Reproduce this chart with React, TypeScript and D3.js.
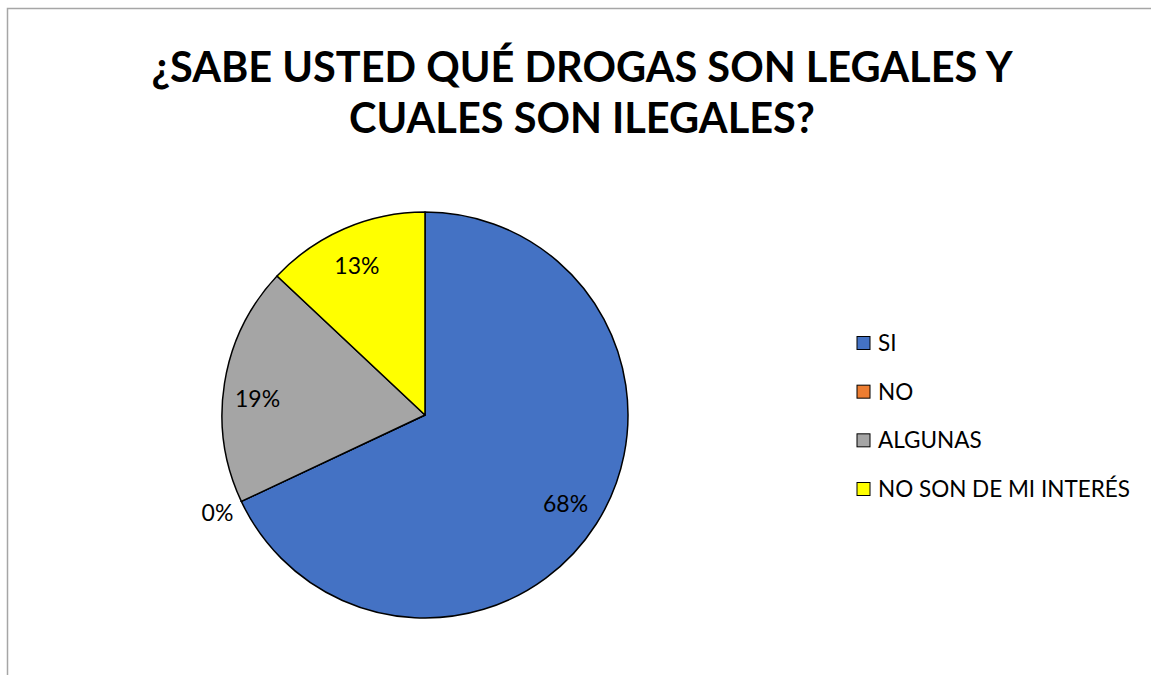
import { useEffect } from 'react'
import * as d3 from 'd3'

const categories = ['SI', 'NO', 'ALGUNAS', 'NO SON DE MI INTERÉS']
const values = [68, 0, 19, 13]
const colors = ['#4472C4', '#ED7D31', '#A5A5A5', '#FFFF00']
const titleLines = ['¿SABE USTED QUÉ DROGAS SON LEGALES Y', 'CUALES SON ILEGALES?']

// Excel "best fit" moves some labels a little off the mid-angle
const labelNudge: Record<string, [number, number]> = {
  'NO SON DE MI INTERÉS': [-2, 4],
  ALGUNAS: [-3, 10],
}

const W = 1151
const H = 675
const FONT = 'Lato, Calibri, Carlito, sans-serif'

export default function App() {
  useEffect(() => {
    // no page margin, no scrollbars
    document.body.style.margin = '0'
    document.documentElement.style.overflow = 'hidden'
  }, [])

  const cx = 425
  const cy = 415
  const r = 203

  const total = d3.sum(values)
  const pie = d3
    .pie<number>()
    .sort(null)
    .value((d) => d)
  const arcs = pie(values)
  const arc = d3.arc<d3.PieArcDatum<number>>().innerRadius(0).outerRadius(r)
  const labelArc = d3
    .arc<d3.PieArcDatum<number>>()
    .innerRadius(r * 0.82)
    .outerRadius(r * 0.82)
  const outsideArc = d3
    .arc<d3.PieArcDatum<number>>()
    .innerRadius(r * 1.13)
    .outerRadius(r * 1.13)

  const legendY = d3
    .scalePoint<string>()
    .domain(categories)
    .range([343, 489])

  return (
    <svg width={W} height={H} style={{ display: 'block', overflow: 'hidden' }}>
      <rect x={0} y={0} width={W} height={H} fill="#fff" />
      {/* chart area border: only the top and left edges are in frame */}
      <path
        d={`M7.5,${H} V8.5 H${W}`}
        fill="none"
        stroke="#A6A6A6"
        strokeWidth={1.5}
      />

      {titleLines.map((t, i) => (
        <text
          key={t}
          x={582}
          y={82 + i * 51}
          textAnchor="middle"
          fontFamily={FONT}
          fontWeight={700}
          fontSize={41.5}
          fill="#000"
        >
          {t}
        </text>
      ))}

      <g transform={`translate(${cx},${cy})`}>
        {arcs.map((a, i) => (
          <path
            key={categories[i]}
            d={arc(a) ?? ''}
            fill={colors[i]}
            stroke="#000"
            strokeWidth={1.5}
            strokeLinejoin="round"
          />
        ))}
        {arcs.map((a, i) => {
          const inside = a.endAngle - a.startAngle > 0.01
          const [px, py] = inside ? labelArc.centroid(a) : outsideArc.centroid(a)
          const [nx, ny] = labelNudge[categories[i]] ?? [0, 0]
          return (
            <text
              key={'l' + categories[i]}
              x={px + nx}
              y={py + ny}
              dy="0.35em"
              textAnchor="middle"
              fontFamily={FONT}
              fontSize={23}
              fill="#000"
            >
              {Math.round((values[i] / total) * 100)}%
            </text>
          )
        })}
      </g>

      {categories.map((c, i) => {
        const y = legendY(c) ?? 0
        return (
          <g key={'leg' + c}>
            <rect
              x={857}
              y={y - 6.5}
              width={13}
              height={13}
              fill={colors[i]}
              stroke="#000"
              strokeWidth={1}
            />
            <text
              x={878}
              y={y}
              dy="0.36em"
              fontFamily={FONT}
              fontSize={22.5}
              fill="#000"
            >
              {c}
            </text>
          </g>
        )
      })}
    </svg>
  )
}
